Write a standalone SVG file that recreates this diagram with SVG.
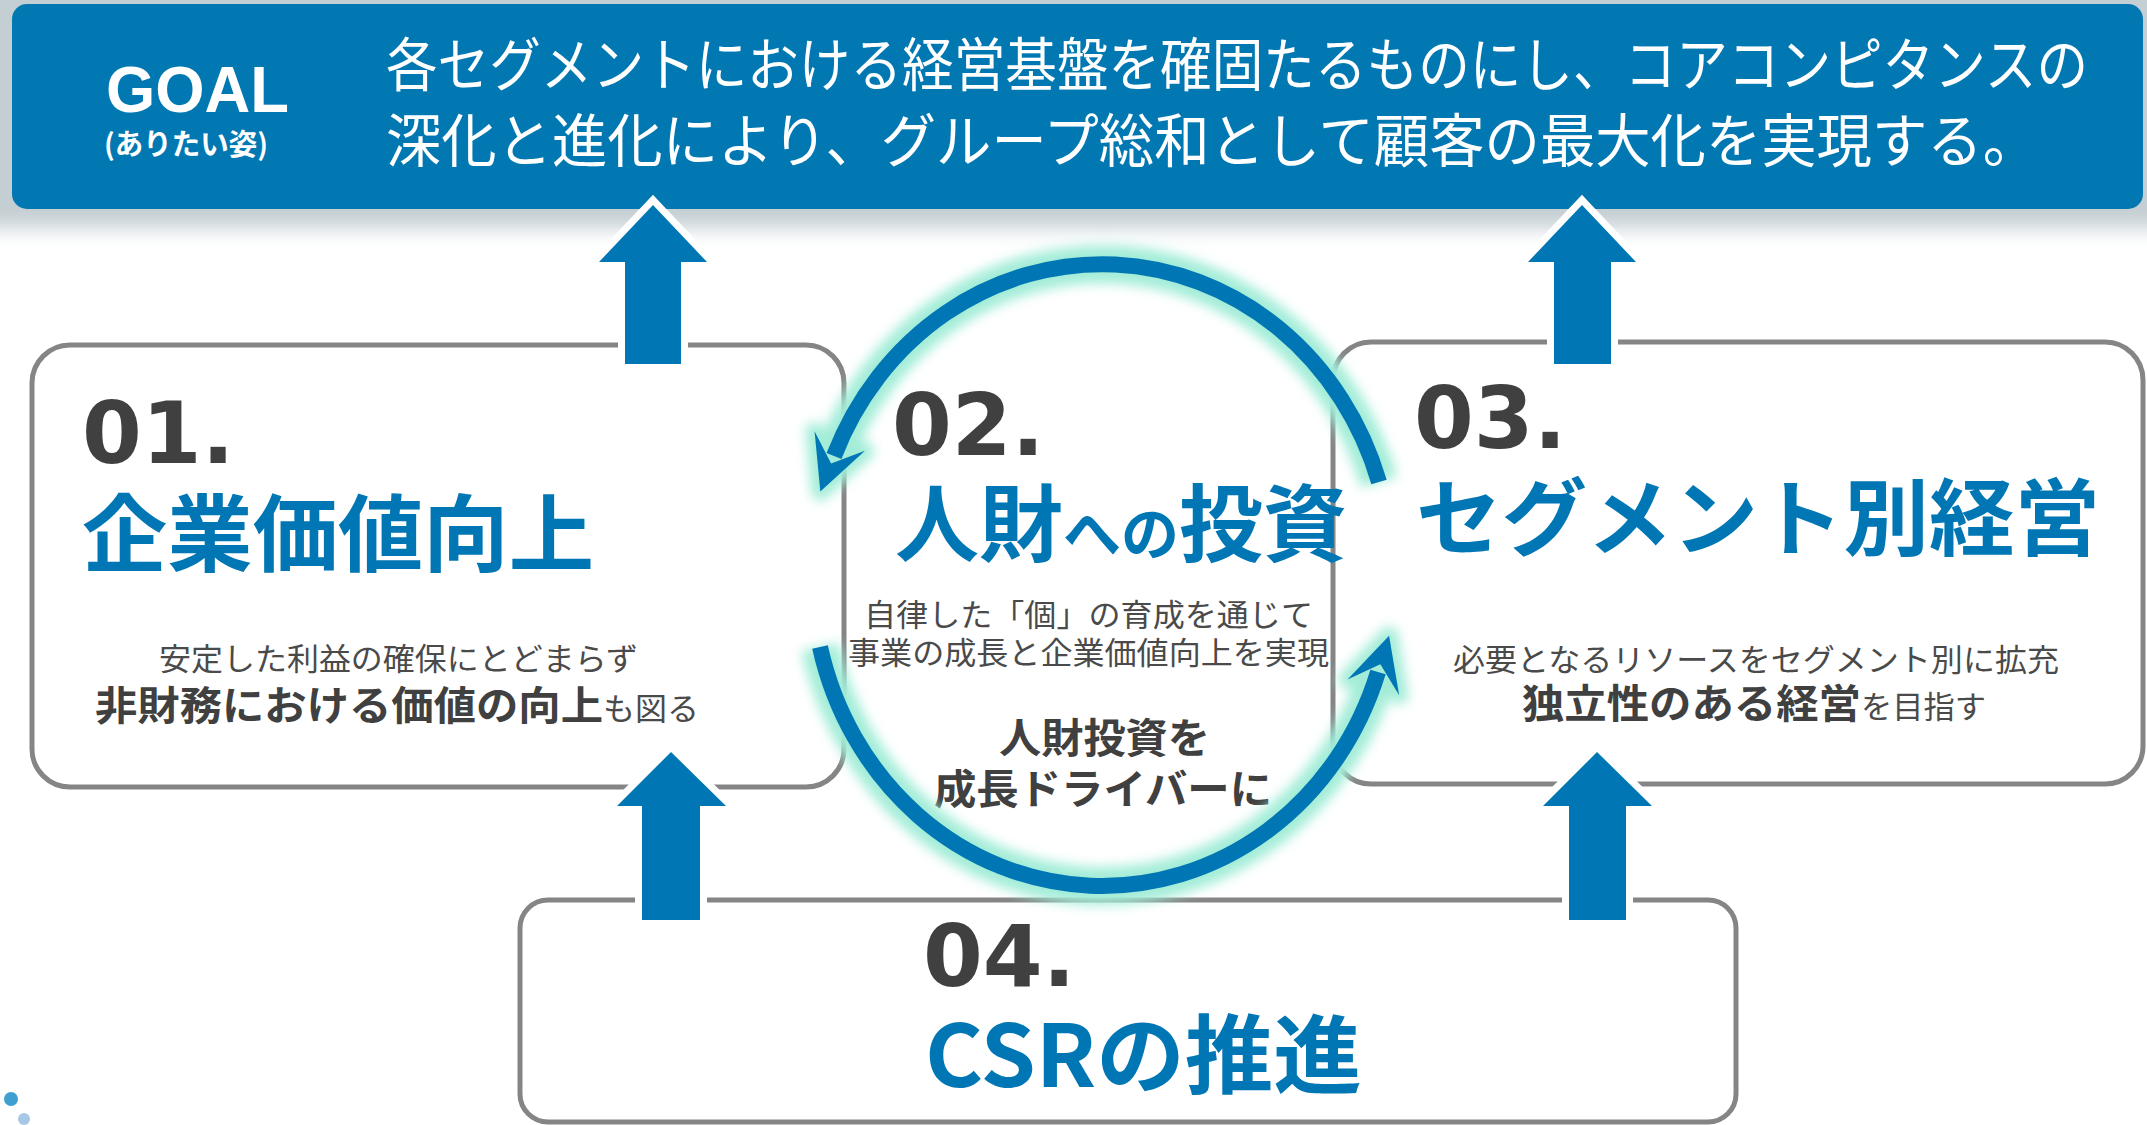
<svg xmlns="http://www.w3.org/2000/svg" width="2147" height="1125" viewBox="0 0 2147 1125">
<defs>
<style>
.jp{font-family:"Noto Sans CJK JP","Noto Sans",sans-serif;}
.num{font-family:"DejaVu Sans","Liberation Sans",sans-serif;font-weight:700;fill:#404040;font-size:86px;}
.ttl{font-family:"Noto Sans CJK JP",sans-serif;font-weight:700;fill:#0077b4;}
.box{fill:#fff;stroke:#858585;stroke-width:5;}
.desc{font-family:"Noto Sans CJK JP",sans-serif;font-weight:400;fill:#4a4a4a;font-size:31px;}
.bold{font-family:"Noto Sans CJK JP",sans-serif;font-weight:700;fill:#404040;}
.arrow{fill:#0077b4;stroke:#fff;stroke-width:14;paint-order:stroke;stroke-linejoin:miter;}
.ring{fill:none;stroke:#0077b4;stroke-width:16;}
.glow{fill:none;stroke:#a3edd8;stroke-width:38;}
.white{fill:#fff;}
</style>
<filter id="blur" x="-20%" y="-20%" width="140%" height="140%"><feGaussianBlur stdDeviation="6"/></filter>
<filter id="shadow" x="-10%" y="-30%" width="120%" height="160%"><feGaussianBlur stdDeviation="10"/></filter>
<marker id="ah" markerUnits="userSpaceOnUse" viewBox="-40 -40 90 80" refX="0" refY="0" markerWidth="90" markerHeight="80" orient="auto" overflow="visible">
<path d="M38,0 L-16,-27 L8,0 L-16,27 Z" fill="#0077b4"/>
</marker>
<marker id="ahg" markerUnits="userSpaceOnUse" viewBox="-40 -40 90 80" refX="0" refY="0" markerWidth="90" markerHeight="80" orient="auto" overflow="visible">
<path d="M38,0 L-16,-27 L8,0 L-16,27 Z" fill="#a3edd8" stroke="#a3edd8" stroke-width="18" stroke-linejoin="round"/>
</marker>
</defs>
<rect x="0" y="0" width="2147" height="1125" fill="#fff"/>

<g id="goal">
<rect x="-30" y="-30" width="2210" height="258" fill="#c4cfd3" filter="url(#shadow)"/>
<rect x="12" y="4" width="2131" height="205" rx="15" fill="#0278b3"/>
<text x="106" y="112" font-family="Liberation Sans, Arial, sans-serif" font-weight="700" font-size="64" fill="#fff" textLength="183" lengthAdjust="spacingAndGlyphs">GOAL</text>
<text x="104" y="155" class="jp white" font-weight="700" font-size="29" textLength="164" lengthAdjust="spacingAndGlyphs">(ありたい姿)</text>
<text x="386" y="86" class="jp white" font-size="58" textLength="1702" lengthAdjust="spacingAndGlyphs">各セグメントにおける経営基盤を確固たるものにし、コアコンピタンスの</text>
<text x="386" y="162" class="jp white" font-size="58" textLength="1652" lengthAdjust="spacingAndGlyphs">深化と進化により、グループ総和として顧客の最大化を実現する。</text>
</g>

<g id="node01">
<rect class="box" x="32" y="345" width="812" height="442" rx="38"/>
<text class="num" x="82" y="463">01.</text>
<text class="ttl" x="82" y="565" font-size="84" textLength="512" lengthAdjust="spacingAndGlyphs">企業価値向上</text>
<text class="desc" x="159" y="670" fill="#333" textLength="479" lengthAdjust="spacingAndGlyphs">安定した利益の確保にとどまらず</text>
<text x="95" y="720"><tspan class="bold" font-size="40" fill="#111" textLength="508" lengthAdjust="spacingAndGlyphs">非財務における価値の向上</tspan><tspan class="desc" fill="#333" textLength="96" lengthAdjust="spacingAndGlyphs">も図る</tspan></text>
</g>

<g id="node03">
<rect class="box" x="1333" y="342" width="810" height="442" rx="38"/>
<text class="num" x="1414" y="448">03.</text>
<text class="ttl" x="1416" y="549" font-size="84" textLength="684" lengthAdjust="spacingAndGlyphs">セグメント別経営</text>
<text class="desc" x="1453" y="671" textLength="606" lengthAdjust="spacingAndGlyphs">必要となるリソースをセグメント別に拡充</text>
<text x="1522" y="718"><tspan class="bold" font-size="40" textLength="339" lengthAdjust="spacingAndGlyphs">独立性のある経営</tspan><tspan class="desc" textLength="125" lengthAdjust="spacingAndGlyphs">を目指す</tspan></text>
</g>

<g id="node02">
<text class="num" x="892" y="455">02.</text>
<text class="ttl" x="895" y="555"><tspan font-size="84">人財</tspan><tspan font-size="58">への</tspan><tspan font-size="84">投資</tspan></text>
<text class="desc" x="864" y="626" textLength="449" lengthAdjust="spacingAndGlyphs">自律した「個」の育成を通じて</text>
<text class="desc" x="848" y="664" textLength="481" lengthAdjust="spacingAndGlyphs">事業の成長と企業価値向上を実現</text>
<text class="bold" x="999" y="753" font-size="41" textLength="211" lengthAdjust="spacingAndGlyphs">人財投資を</text>
<text class="bold" x="934" y="804" font-size="41" textLength="338" lengthAdjust="spacingAndGlyphs">成長ドライバーに</text>
</g>

<g id="node04">
<rect class="box" x="520" y="900" width="1216" height="222" rx="28"/>
<text class="num" x="923" y="986">04.</text>
<text class="ttl" x="925" y="1087" font-size="86" textLength="437" lengthAdjust="spacingAndGlyphs">CSRの推進</text>
</g>

<g id="connectors">
<g filter="url(#blur)">
<path class="glow" d="M1379,482 A290 310 0 0 0 834,456" marker-end="url(#ahg)"/>
<path class="glow" d="M820,647 A290 310 0 0 0 1378,672" marker-end="url(#ahg)"/>
</g>
<path class="ring" d="M1379,482 A290 310 0 0 0 834,456" marker-end="url(#ah)"/>
<path class="ring" d="M820,647 A290 310 0 0 0 1378,672" marker-end="url(#ah)"/>
<polygon class="arrow" points="653,205 707,262 681,262 681,364 625,364 625,262 599,262"/>
<polygon class="arrow" points="1582,205 1636,262 1611,262 1611,364 1554,364 1554,262 1528,262"/>
<polygon class="arrow" points="671,752 726,806 700,806 700,920 642,920 642,806 617,806"/>
<polygon class="arrow" points="1597,752 1652,806 1626,806 1626,920 1569,920 1569,806 1543,806"/>
</g>

<g id="dots">
<circle cx="11" cy="1099" r="7" fill="#3f9fd1"/>
<circle cx="24" cy="1119" r="6" fill="#a6c8e6"/>
</g>
</svg>
